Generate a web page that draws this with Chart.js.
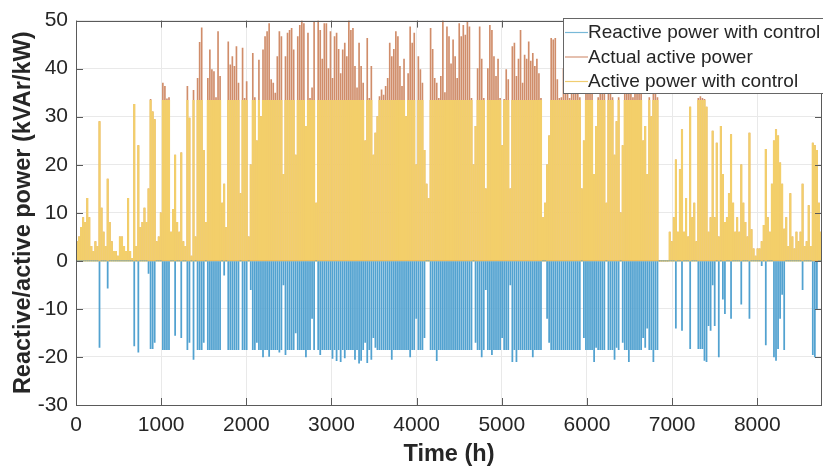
<!DOCTYPE html>
<html><head><meta charset="utf-8">
<script src="https://cdn.jsdelivr.net/npm/chart.js@4.4.0/dist/chart.umd.min.js"></script>
<style>html,body{margin:0;padding:0;background:#fff;overflow:hidden}canvas{display:block}</style>
</head><body>
<canvas id="c" width="823" height="466"></canvas>
<script>
// ---- data (daily peak values, one per day of the year) ----
const seriesNames = ['Reactive power with control', 'Actual active power', 'Active power with control'];
const xTickValues = [0, 1000, 2000, 3000, 4000, 5000, 6000, 7000, 8000];
const yTickValues = [-30, -20, -10, 0, 10, 20, 30, 40, 50];
const hoursInYear = 8760;

const actualActive = [
  4,5,7,9,8,13,9,3,2,4,
  3,29,11,6,3,17,8,4,2,2,
  1,5,5,3,2,13,2,0.5,32.6,3,
  24,7,8,11,8,15,33.6,31,29.4,4,
  5,10,37,36.3,33.7,34,6,10.7,22,8,
  6,22.5,4,3,36.3,29.7,1,35.5,5,38,
  45.5,48.5,23,8,38,43.9,39.8,39.4,34,47.7,
  38.4,12,16,7,45.6,40.8,42.5,40.5,44.6,37,
  14,44.3,33.8,37.3,5,20,43.2,34,25,41.8,
  30,43.9,46.7,47.7,49.4,37.7,37,34.9,42.5,47.7,
  46.7,18,42.5,47.4,48,48.4,43.9,22,46.7,49,
  50,49.4,28,47.4,33.8,36,49.8,12,50,48,
  42,49.4,49.4,40,47.7,38,46.7,47.4,44,39,
  43.9,45.3,42.5,50,48,48.4,40.5,36,45.3,40.5,
  37,25,46.3,33.8,40.5,22,26.6,30,34.2,35.6,
  34.5,36.3,38,45.3,42.5,44,47.7,46.7,40.5,36.3,
  42,30,39,48.7,45.3,47.4,20,42.5,39.8,37,
  23,16,13,48.4,44,38,37,33.8,38.4,50,
  35,48.7,46.7,41,46,42.5,38,49.4,46.7,49,
  47,49.8,48.7,33.8,20,28,40,48.7,42,33.8,
  15,40,49,48,42.5,38.4,42,33.8,24,33.6,
  39.8,37.7,15,44.6,45.3,38.4,42,48,37,42.8,
  42,45.6,41.6,43.2,40.5,42,39,33.8,9,12,
  20,26,46.3,46,46.3,37.7,33.8,34,40,36,
  38,33.8,42,36,38,40,34,15,25,36,
  38,40,36,18,28,34,37,35,39,12,
  35,38,34,22,29,34,10,24,36,38,
  35,37,34,38,40,39,37,25,28,18,
  34,30,36,35,34,0,0,0,0,0,
  6,4,9,21,6,19,27.3,6,13,5,
  32,9,12,4,33.8,34.2,33.8,33.6,32,6,
  9,27,9,24.5,5,28,18,8,9,14,
  26.3,12,6,9,6,20,12,8,5,26.6,
  6.5,2.5,1,2.5,2.5,4,7.4,23.2,9,6,
  16,25,27.3,26,20.4,16,6.6,9,3,14,
  5,2.5,6,4,6,16,3,4,11.5,3,
  24.5,24,23,12,6
];

const controlledActive = [
  4,5,7,9,8,13,9,3,2,4,
  3,29,11,6,3,17,8,4,2,2,
  1,5,5,3,2,13,2,0.5,32.6,3,
  24,7,8,11,8,15,33.4,31,29.4,4,
  5,10,33.4,33.4,33.4,33.4,6,10.7,22,8,
  6,22.5,4,3,33.4,29.7,1,33.4,5,33.4,
  33.4,33.4,23,8,33.4,33.4,33.4,33.4,33.4,33.4,
  33.4,12,16,7,33.4,33.4,33.4,33.4,33.4,33.4,
  14,33.4,33.4,33.4,5,20,33.4,33.4,25,33.4,
  30,33.4,33.4,33.4,33.4,33.4,33.4,33.4,33.4,33.4,
  33.4,18,33.4,33.4,33.4,33.4,33.4,22,33.4,33.4,
  33.4,33.4,28,33.4,33.4,33.4,33.4,12,33.4,33.4,
  33.4,33.4,33.4,33.4,33.4,33.4,33.4,33.4,33.4,33.4,
  33.4,33.4,33.4,33.4,33.4,33.4,33.4,33.4,33.4,33.4,
  33.4,25,33.4,33.4,33.4,22,26.6,30,33.4,33.4,
  33.4,33.4,33.4,33.4,33.4,33.4,33.4,33.4,33.4,33.4,
  33.4,30,33.4,33.4,33.4,33.4,20,33.4,33.4,33.4,
  23,16,13,33.4,33.4,33.4,33.4,33.4,33.4,33.4,
  33.4,33.4,33.4,33.4,33.4,33.4,33.4,33.4,33.4,33.4,
  33.4,33.4,33.4,33.4,20,28,33.4,33.4,33.4,33.4,
  15,33.4,33.4,33.4,33.4,33.4,33.4,33.4,24,33.4,
  33.4,33.4,15,33.4,33.4,33.4,33.4,33.4,33.4,33.4,
  33.4,33.4,33.4,33.4,33.4,33.4,33.4,33.4,9,12,
  20,26,33.4,33.4,33.4,33.4,33.4,33.4,33.4,33.4,
  33.4,33.4,33.4,33.4,33.4,33.4,33.4,15,25,33.4,
  33.4,33.4,33.4,18,28,33.4,33.4,33.4,33.4,12,
  33.4,33.4,33.4,22,29,33.4,10,24,33.4,33.4,
  33.4,33.4,33.4,33.4,33.4,33.4,33.4,25,28,18,
  33.4,30,33.4,33.4,33.4,0,0,0,0,0,
  6,4,9,21,6,19,27.3,6,13,5,
  32,9,12,4,33.4,33.4,33.4,33.4,32,6,
  9,27,9,24.5,5,28,18,8,9,14,
  26.3,12,6,9,6,20,12,8,5,26.6,
  6.5,2.5,1,2.5,2.5,4,7.4,23.2,9,6,
  16,25,27.3,26,20.4,16,6.6,9,3,14,
  5,2.5,6,4,6,16,3,4,11.5,3,
  24.5,24,23,12,6
];

const reactiveControlled = [
  0,0,0,0,0,0,0,0,0,0,
  0,-18,0,0,0,-5.7,0,0,0,0,
  0,0,0,0,0,0,0,0,-17.7,0,
  -19,0,0,0,0,-2.6,-18.3,-18.3,-17,0,
  0,0,-18.5,-18.5,-18.5,-18.5,0,0,-15.5,0,
  0,-16,0,0,-18.5,-17,0,-20.5,0,-18.5,
  -18.5,-18.5,-17,0,-18.5,-18.5,-18.5,-18.5,-18.5,-18.5,
  -18.5,0,-3,0,-18.5,-18.5,-18.5,-18.5,-18.5,-18.5,
  0,-18.5,-18.5,-18.5,0,-6,-18.5,-18.5,-17,-18.5,
  -18.5,-20,-18.5,-18.5,-19.9,-18.5,-18.5,-18.5,-18.5,-19,
  -18.5,-5,-19.5,-18.5,-18.5,-18.5,-18.5,-15,-18.5,-18.5,
  -18.5,-18.5,-20,-18.5,-18.5,-12,-18.5,0,-18.5,-19.5,
  -18.5,-18.5,-18.5,-18.5,-18.5,-20.3,-18.5,-20.8,-18.5,-21,
  -18.5,-20.2,-18.5,-18.5,-18.5,-18.5,-20.5,-18.5,-21.3,-20.7,
  -18.5,-17,-21.2,-18.5,-20.5,-16,-18,-18.5,-18.5,-18.5,
  -18.5,-18.5,-18.5,-18.5,-20.5,-18.5,-18.5,-18.5,-18.5,-18.5,
  -18.5,-18.5,-18.5,-20,-18.5,-18.5,-12,-18.5,-18.5,-18.5,
  -16,0,0,-18.5,-18.5,-18.5,-20.8,-18.5,-18.5,-18.5,
  -18.5,-18.5,-18.5,-18.5,-18.5,-18.5,-18.5,-18.5,-18.5,-18.5,
  -18.5,-18.5,-18.5,-18.5,0,-17,-18.5,-18.5,-20,-18.5,
  -6,-18.5,-18.5,-19.5,-18.5,-18.5,-18.5,-18.5,-16,-18.5,
  -18.5,-18.5,-5,-21,-18.5,-21,-18.5,-18.5,-18.5,-18.5,
  -18.5,-18.5,-18.5,-20,-18.5,-18.5,-18.5,-18.5,0,0,
  -12,-17,-18.5,-18.5,-18.5,-18.5,-18.5,-18.5,-18.5,-18.5,
  -18.5,-18.5,-18.5,-18.5,-18.5,-18.5,-18.5,0,-16,-18.5,
  -18.5,-18.5,-18.5,-21,-18,-18.5,-18.5,-18.5,-18.5,0,
  -18.5,-18.5,-18.5,-20.5,-18,-18.5,0,-17,-18.5,-18.5,
  -21,-18.5,-18.5,-18.5,-18.5,-18.5,-18.5,-16,-18,-14,
  -18.5,-18.5,-21,-18.5,-18.5,0,0,0,0,0,
  0,0,0,-14,0,0,-14.5,0,0,0,
  -18.3,0,0,0,-18.3,-18.3,-18.3,-20.7,-21,-13.5,
  -14.5,-5,-13.5,0,-20,0,-8,-11,0,0,
  -12,0,0,0,0,-9,0,0,0,-12,
  0,0,0,0,0,-1,0,-17.5,0,0,
  0,-20,-20.7,-18.3,-12,-7,-18.5,0,0,0,
  0,0,0,0,0,-6,0,0,0,0,
  -19.5,-20,-10,0,0
];

// x value of each day's peak (hour of the year, midday)
const peakHour = actualActive.map((_, day) => day * 24 + 12);
const toPoints = arr => arr.map((v, i) => ({ x: peakHour[i], y: v }));

const FONT = "'Liberation Sans', Arial, sans-serif";
const TXT = '#262626';
const COLORS = ['#52a2d0', '#d08d6a', '#f3cf6a'];
const THICK = [1.1, 1.0, 1.5];
const LEGEND_LINE = ['#78b9d8', '#d4957a', '#f0cd70'];

const framePlugin = {
  id: 'frame',
  afterDraw(chart) {
    const { ctx, chartArea: a, scales: { x, y } } = chart;
    ctx.save();
    ctx.strokeStyle = '#5a5a5a';
    ctx.lineWidth = 1;
    ctx.beginPath();
    x.ticks.forEach(t => {
      const px = Math.round(x.getPixelForValue(t.value)) + 0.5;
      ctx.moveTo(px, a.bottom); ctx.lineTo(px, a.bottom - 7);
      ctx.moveTo(px, a.top); ctx.lineTo(px, a.top + 7);
    });
    y.ticks.forEach(t => {
      const py = Math.round(y.getPixelForValue(t.value)) + 0.5;
      ctx.moveTo(a.left, py); ctx.lineTo(a.left + 7, py);
      ctx.moveTo(a.right, py); ctx.lineTo(a.right - 7, py);
    });
    ctx.stroke();
    ctx.strokeRect(Math.round(a.left) + 0.5, Math.round(a.top) + 0.5,
      Math.round(a.right - a.left) - 1, Math.round(a.bottom - a.top));

    // legend box (inside the axes, top-right, extends past the right edge)
    const lx = 563.5, ly = 18.5, lw = 280, lh = 75;
    ctx.fillStyle = '#fff';
    ctx.fillRect(lx, ly, lw, lh);
    ctx.strokeStyle = '#666';
    ctx.strokeRect(lx, ly, lw, lh);
    ctx.font = '19px ' + FONT;
    ctx.textBaseline = 'middle';
    ctx.textAlign = 'left';
    const rows = [32, 56.5, 81];
    seriesNames.forEach((name, i) => {
      ctx.strokeStyle = LEGEND_LINE[i];
      ctx.lineWidth = 1.2;
      ctx.beginPath();
      ctx.moveTo(565, rows[i] + 0.5); ctx.lineTo(588, rows[i] + 0.5);
      ctx.stroke();
      ctx.fillStyle = TXT;
      ctx.fillText(name, 588, rows[i] + 1);
    });
    ctx.restore();
  }
};

new Chart(document.getElementById('c'), {
  type: 'bar',
  data: {
    datasets: [
      { label: seriesNames[0], data: toPoints(reactiveControlled), backgroundColor: COLORS[0], barThickness: THICK[0], order: 0 },
      { label: seriesNames[2], data: toPoints(controlledActive), backgroundColor: COLORS[2], barThickness: THICK[2], order: 1 },
      { label: seriesNames[1], data: toPoints(actualActive), backgroundColor: COLORS[1], barThickness: THICK[1], order: 2 }
    ]
  },
  options: {
    responsive: false,
    animation: false,
    events: [],
    datasets: { bar: { grouped: false, borderWidth: 0 } },
    layout: { padding: { top: 19, right: 1, left: 0, bottom: 0 } },
    plugins: { legend: { display: false }, tooltip: { enabled: false } },
    scales: {
      x: {
        type: 'linear', min: 0, max: hoursInYear, offset: false,
        afterBuildTicks: s => { s.ticks = xTickValues.map(v => ({ value: v })); },
        ticks: { autoSkip: false, maxRotation: 0, padding: 8, color: TXT, font: { family: FONT, size: 21 },
                 callback: v => String(v) },
        grid: { color: '#e9e9e9', drawTicks: false, offset: false },
        border: { display: false },
        title: { display: true, text: 'Time (h)', color: TXT, padding: 0,
                 font: { family: FONT, size: 23.5, weight: 'bold', lineHeight: 1 } },
        afterFit: s => { s.height = 61; }
      },
      y: {
        min: -30, max: 50,
        afterBuildTicks: s => { s.ticks = yTickValues.map(v => ({ value: v })); },
        ticks: { padding: 8, color: TXT, font: { family: FONT, size: 21 }, callback: v => String(v) },
        grid: {
          drawTicks: false,
          color: c => (c.tick && c.tick.value === 0) ? '#eec04a' : '#e9e9e9',
          lineWidth: c => (c.tick && c.tick.value === 0) ? 1.5 : 1
        },
        border: { display: false },
        title: { display: true, text: 'Reactive/active power (kVAr/kW)', color: TXT,
                 padding: { top: 9, bottom: 0 },
                 font: { family: FONT, size: 23.5, weight: 'bold', lineHeight: 1.2 } },
        afterFit: s => { s.width = 76; }
      }
    }
  },
  plugins: [framePlugin]
});
</script>
</body></html>
